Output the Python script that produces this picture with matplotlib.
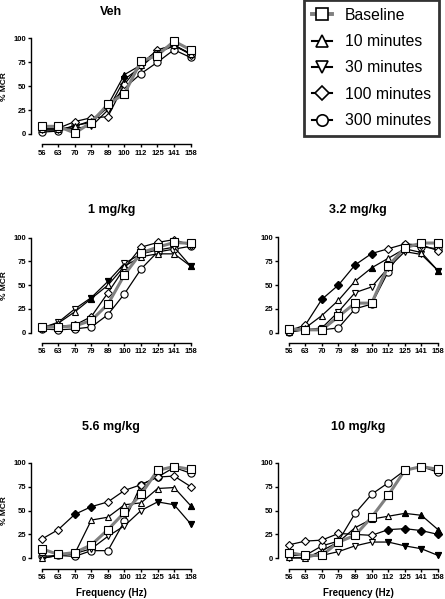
import matplotlib
matplotlib.use("Agg")
import matplotlib.pyplot as plt
from matplotlib.lines import Line2D

W, H = 445, 599

freqs = ["56", "63", "70", "79", "89", "100", "112", "125", "141", "158"]
series_names = ["Baseline", "10 minutes", "30 minutes", "100 minutes", "300 minutes"]
y_ticks = [0, 25, 50, 75, 100]

# rows: Baseline, 10, 30, 100, 300 minutes (% MCR)
veh = [
    [8, 8, 1, 12, 31, 42, 76, 82, 97, 88],
    [5, 5, 8, 14, 30, 62, 72, 85, 93, 84],
    [4, 4, 6, 8, 25, 57, 70, 85, 92, 84],
    [6, 6, 13, 17, 18, 52, 73, 88, 93, 83],
    [2, 3, 9, 12, 28, 48, 63, 75, 88, 80],
]
veh_filled = [[], [5], [5], [], []]

mg1 = [
    [6, 6, 7, 13, 30, 61, 84, 90, 95, 94],
    [5, 10, 22, 36, 50, 70, 80, 83, 83, 70],
    [5, 11, 25, 37, 54, 73, 83, 87, 90, 70],
    [5, 7, 8, 17, 42, 68, 90, 95, 98, 92],
    [4, 3, 4, 6, 19, 41, 67, 85, 88, 91],
]
mg1_filled = [[], [3, 9], [3, 4, 9], [], []]

mg3_2 = [
    [4, 3, 3, 17, 31, 31, 70, 89, 94, 94],
    [1, 5, 18, 34, 54, 68, 78, 88, 84, 65],
    [1, 3, 5, 22, 42, 48, 68, 85, 82, 65],
    [2, 8, 35, 50, 71, 83, 88, 93, 92, 86],
    [1, 3, 3, 5, 25, 30, 64, 92, 90, 88],
]
mg3_2_filled = [[], [5, 9], [9], [2, 3, 4, 5], []]

mg5_6 = [
    [10, 4, 6, 14, 30, 48, 67, 92, 96, 93],
    [0, 3, 5, 40, 43, 56, 58, 73, 74, 55],
    [0, 3, 5, 10, 23, 34, 50, 59, 56, 36],
    [20, 30, 46, 54, 59, 71, 77, 85, 86, 75],
    [2, 3, 2, 8, 8, 39, 77, 85, 95, 89],
]
mg5_6_filled = [[], [9], [7, 8, 9], [2, 3], []]

mg10 = [
    [6, 3, 3, 17, 24, 43, 66, 92, 96, 93],
    [1, 0, 8, 17, 32, 41, 44, 47, 45, 30],
    [0, 1, 3, 7, 13, 17, 17, 13, 10, 3],
    [14, 18, 19, 26, 25, 24, 30, 31, 29, 25],
    [3, 3, 13, 18, 47, 67, 79, 92, 96, 90],
]
mg10_filled = [[], [7, 8, 9], [6, 7, 8, 9], [6, 7, 8, 9], []]

markers = ["s", "^", "v", "D", "o"]
msizes = [5.8, 5.0, 5.0, 4.2, 5.2]
line_colors = ["#808080", "black", "black", "black", "black"]
line_widths = [2.2, 0.9, 0.9, 0.9, 0.9]

bold = {"family": "Liberation Sans", "weight": "bold"}

fig = plt.figure(figsize=(W / 100, H / 100), dpi=100)


def panel(data, filled, left, right, top, bottom, title, ylabel=False, xlabel=False):
    ax = fig.add_axes([left / W, 1 - bottom / H, (right - left) / W, (bottom - top) / H])
    x = list(range(len(freqs)))
    # draw the time points first, baseline last so it sits on top
    for i in [4, 3, 2, 1, 0]:
        ax.plot(x, data[i], color=line_colors[i], lw=line_widths[i], marker=markers[i],
                ms=msizes[i], mfc="white", mec="black", mew=0.8, clip_on=False,
                zorder=3 + (4 - i))
        if filled[i]:
            ax.plot([x[j] for j in filled[i]], [data[i][j] for j in filled[i]],
                    ls="none", marker=markers[i], ms=msizes[i], mfc="black", mec="black",
                    mew=0.8, clip_on=False, zorder=3 + (4 - i))
    ax.set_xlim(0, 9)
    ax.set_ylim(0, 100)
    ax.set_xticks(x)
    ax.set_xticklabels(freqs)
    ax.set_yticks(y_ticks)
    for s in ["top", "right"]:
        ax.spines[s].set_visible(False)
    ax.spines["left"].set_position(("outward", 7.5))
    ax.spines["bottom"].set_position(("outward", 7.5))
    ax.spines["left"].set_bounds(0, 100)
    ax.spines["bottom"].set_bounds(0, 9)
    for s in ["left", "bottom"]:
        ax.spines[s].set_linewidth(1.0)
    ax.tick_params(length=2.5, width=1.0, pad=1.2, labelsize=5.5)
    for lab in ax.get_xticklabels() + ax.get_yticklabels():
        lab.set_fontfamily("Liberation Sans")
        lab.set_fontweight("bold")
    cx = ((left - 10) + right) / 2
    fig.text(cx / W, 1 - (title_y[title]) / H, title, ha="center", va="center",
             fontsize=9, **bold)
    if ylabel:
        fig.text(5 / W, 1 - ((top + bottom) / 2) / H, "% MCR", rotation=90,
                 ha="center", va="center", fontsize=6, **bold)
    if xlabel:
        fig.text(cx / W, 1 - 592.5 / H, "Frequency (Hz)", ha="center", va="center",
                 fontsize=7, **bold)
    return ax


title_y = {"Veh": 12, "1 mg/kg": 210, "3.2 mg/kg": 210, "5.6 mg/kg": 427, "10 mg/kg": 427}

panel(veh, veh_filled, 41.7, 190.5, 38.3, 134, "Veh", ylabel=True)
panel(mg1, mg1_filled, 41.7, 190.7, 237.7, 332.7, "1 mg/kg", ylabel=True)
panel(mg3_2, mg3_2_filled, 288.7, 438, 237.3, 332.7, "3.2 mg/kg")
panel(mg5_6, mg5_6_filled, 41.7, 190.7, 462.7, 558.3, "5.6 mg/kg", ylabel=True, xlabel=True)
panel(mg10, mg10_filled, 288.7, 438, 462.7, 558.3, "10 mg/kg", xlabel=True)

handles = [
    Line2D([], [], color=line_colors[i], lw=line_widths[i] + 0.6, marker=markers[i],
           ms=msizes[i] + 3.0, mfc="white", mec="black", mew=1.2)
    for i in range(5)
]
leg = fig.legend(handles, series_names, loc="upper left", bbox_to_anchor=(304 / W, 1.0),
                 borderaxespad=0, frameon=True, fancybox=False, edgecolor="black",
                 handlelength=1.3, handletextpad=0.8, labelspacing=0.72, borderpad=0.5,
                 prop={"family": "Liberation Sans", "size": 11.3})
leg.get_frame().set_linewidth(2)

fig.savefig("out.png", dpi=100)
